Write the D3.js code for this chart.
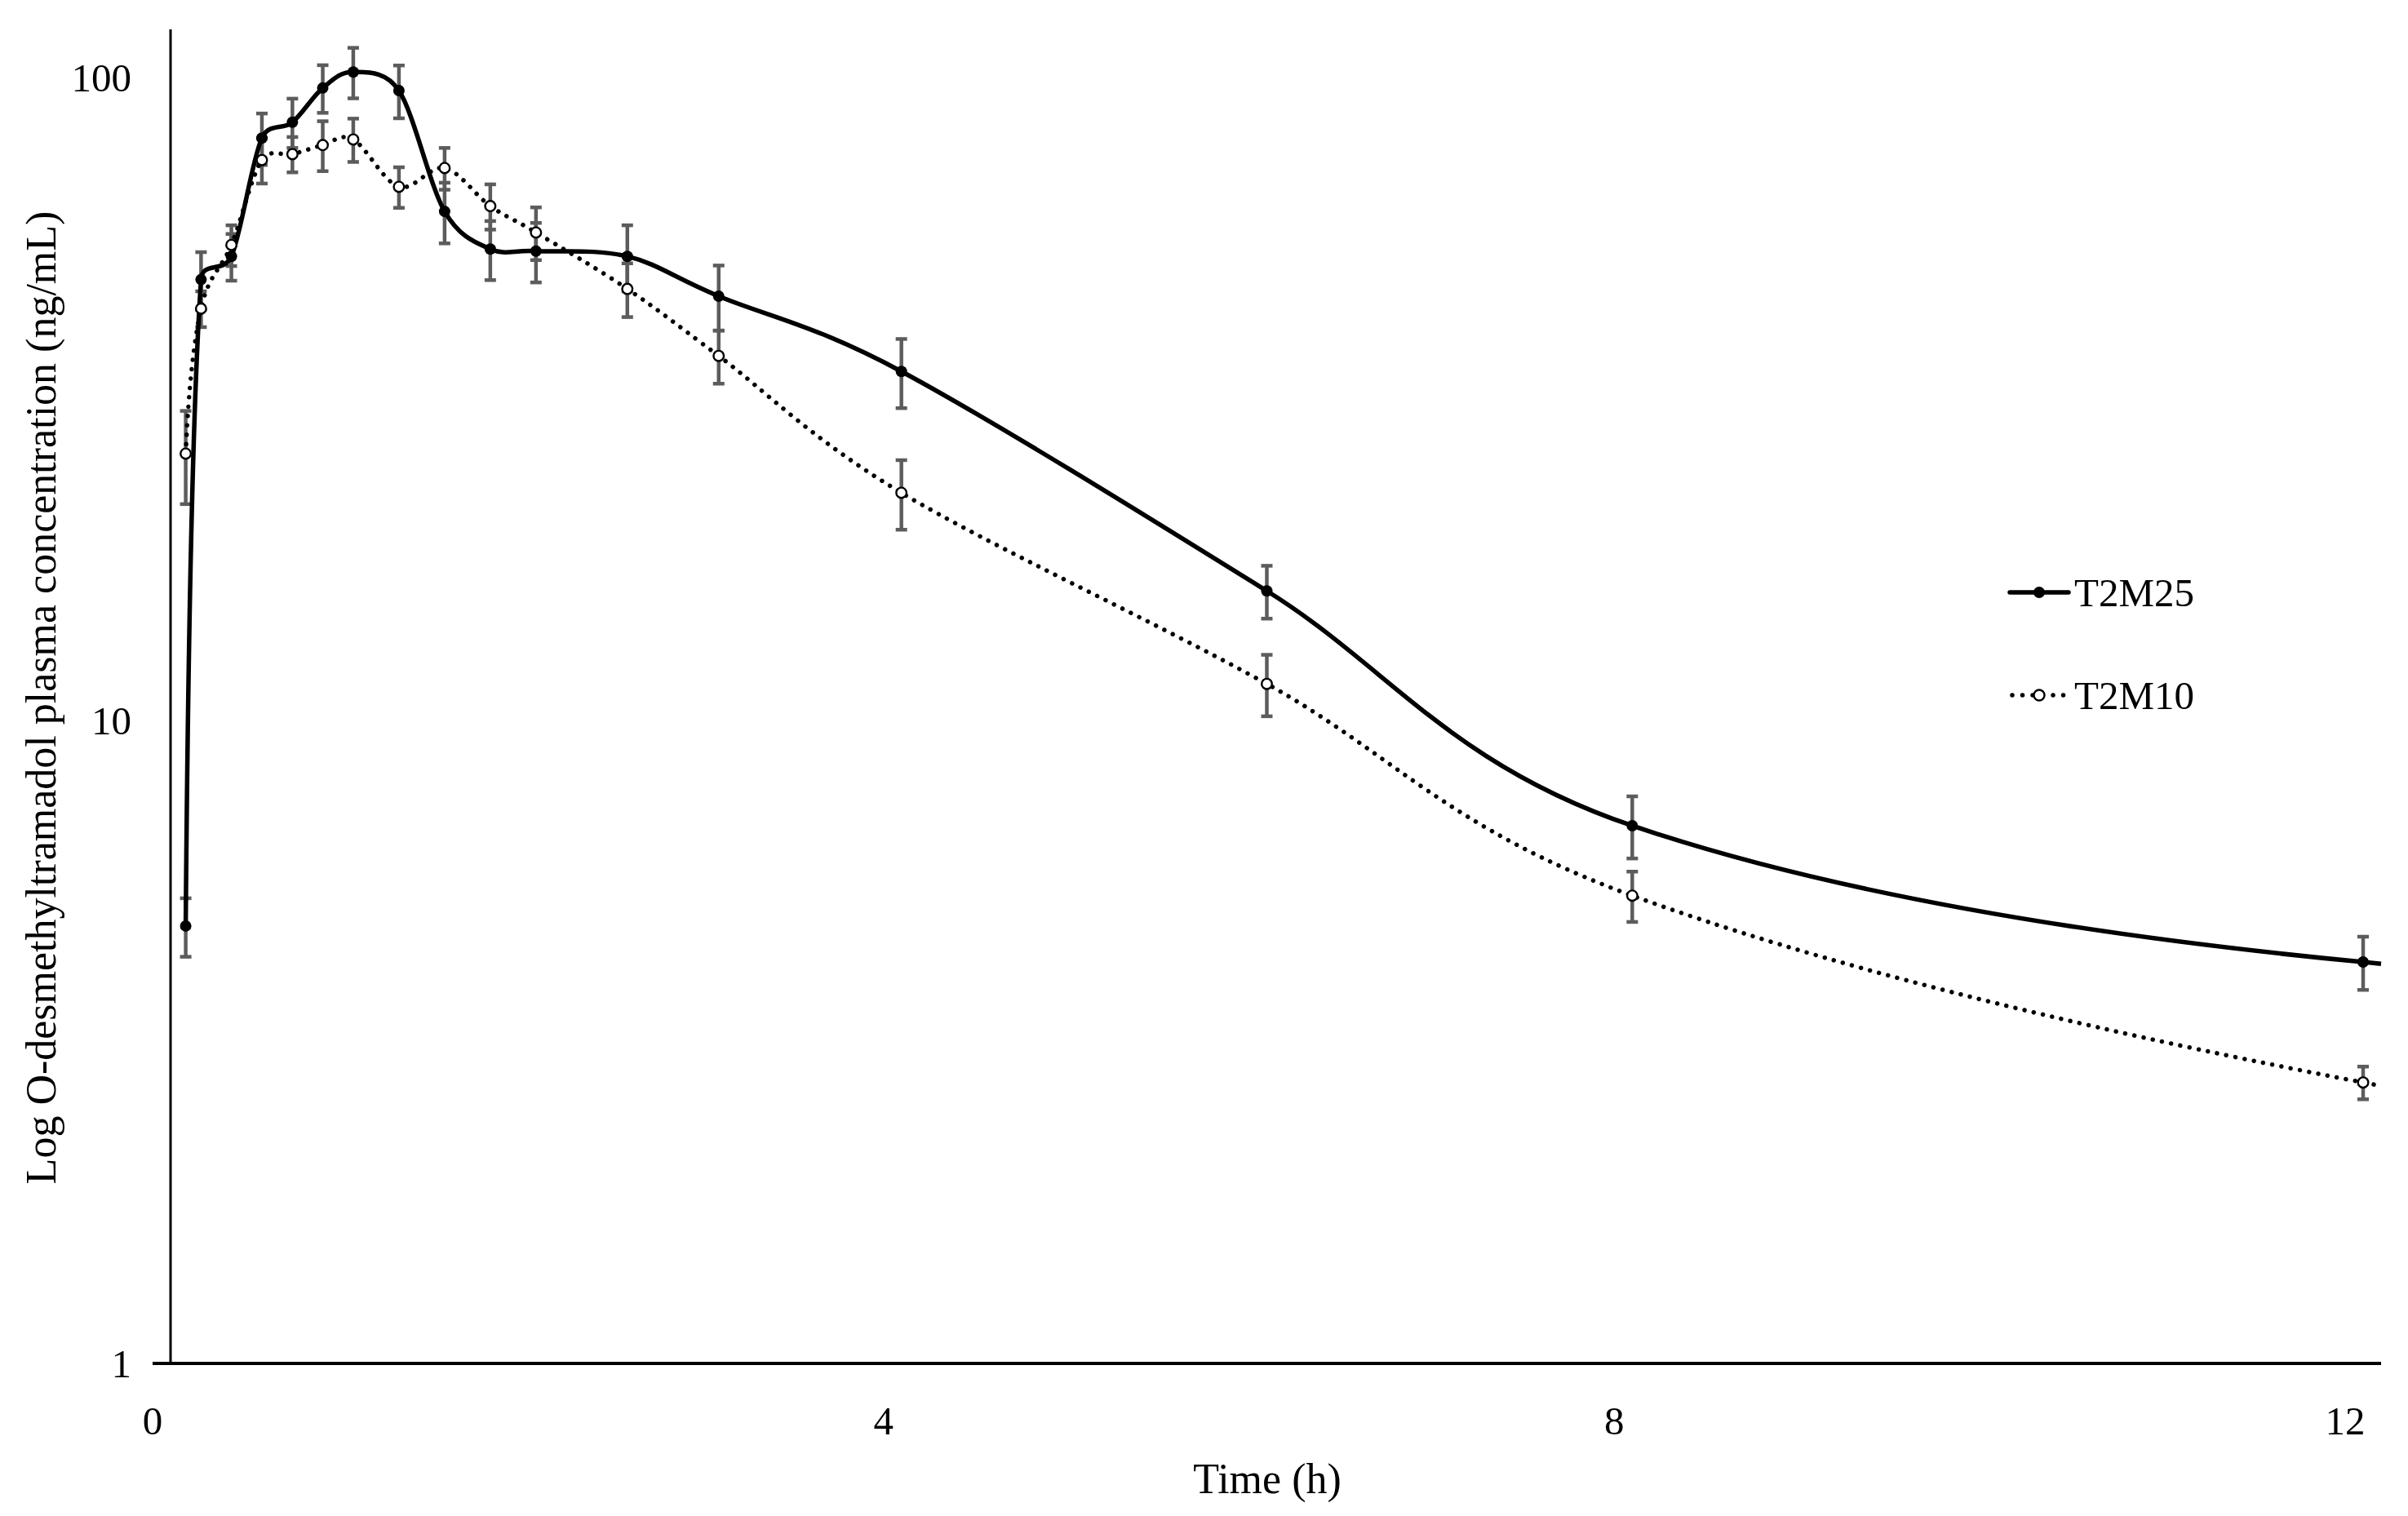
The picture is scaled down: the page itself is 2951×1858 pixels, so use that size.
<!DOCTYPE html>
<html>
<head>
<meta charset="utf-8">
<script src="https://cdn.jsdelivr.net/npm/d3@7"></script>
<style>
  html, body { margin: 0; padding: 0; background: #fff; }
  svg { display: block; }
  text { font-family: "Liberation Serif", "Times New Roman", serif; fill: #000; }
</style>
</head>
<body>
<svg id="chart" width="2951" height="1858"></svg>
<script>
// ---- data ----
const timesH = [0.083, 0.167, 0.333, 0.5, 0.667, 0.833, 1, 1.25, 1.5, 1.75, 2, 2.5, 3, 4, 6, 8, 12];
const t2m25Mean = [4.79, 48.5, 52.7, 80.5, 85.2, 96.3, 102, 95.4, 61.9, 54.1, 53.7, 52.7, 45.7, 34.9, 15.9, 6.86, 4.21];
const t2m25SD   = [0.5, 5.0, 4.4, 7.4, 7.5, 8.2, 9.2, 9.0, 6.7, 5.7, 5.7, 6.2, 5.3, 4.3, 1.5, 0.76, 0.4];
const t2m10Mean = [26.0, 43.7, 54.9, 74.4, 76.0, 78.5, 80.1, 67.6, 72.3, 63.1, 57.4, 46.9, 36.9, 22.6, 11.4, 5.34, 2.735];
const t2m10SD   = [4.3, 2.8, 4.0, 6.0, 4.8, 7.0, 6.2, 4.9, 5.4, 5.1, 5.4, 4.5, 3.5, 2.8, 1.25, 0.48, 0.16];
const xTicks = [0, 4, 8, 12];
const yTicks = [1, 10, 100];
const seriesNames = ["T2M25", "T2M10"];
const xTitle = "Time (h)";
const yTitle = "Log O-desmethyltramadol plasma concentration (ng/mL)";

// ---- smoothed curve (Catmull-Rom style, control arms clamped to avoid overshoot) ----
const lineOverhang = 22; // the reference's smoothed lines run a little past the last marker
function ClampedCR(context) { this._context = context; }
ClampedCR.prototype = {
  areaStart() {}, areaEnd() {},
  lineStart() { this._pts = []; },
  point(px, py) { this._pts.push([+px, +py]); },
  lineEnd() {
    const p = this._pts, n = p.length, c = this._context, k = 0.5;
    if (!n) return;
    c.moveTo(p[0][0], p[0][1]);
    if (n === 1) return;
    const T = p.map((q, i) => {
      const a = p[Math.max(i - 1, 0)], b = p[Math.min(i + 1, n - 1)];
      return [(b[0] - a[0]) / 2, (b[1] - a[1]) / 2];
    });
    if (n > 2) {
      T[0] = [2 * (p[1][0] - p[0][0]) - T[1][0], 2 * (p[1][1] - p[0][1]) - T[1][1]];
      T[n - 1] = [2 * (p[n - 1][0] - p[n - 2][0]) - T[n - 2][0], 2 * (p[n - 1][1] - p[n - 2][1]) - T[n - 2][1]];
    } else {
      T[0] = T[1] = [p[1][0] - p[0][0], p[1][1] - p[0][1]];
    }
    for (let i = 0; i < n - 1; i++) {
      const a = p[i], b = p[i + 1];
      const lim = k * Math.hypot(b[0] - a[0], b[1] - a[1]);
      const arm = t => {
        const m = Math.hypot(t[0], t[1]) / 3;
        const s = m > lim ? lim / m : 1;
        return [t[0] / 3 * s, t[1] / 3 * s];
      };
      const d1 = arm(T[i]), d2 = arm(T[i + 1]);
      c.bezierCurveTo(a[0] + d1[0], a[1] + d1[1], b[0] - d2[0], b[1] - d2[1], b[0], b[1]);
    }
    const te = T[n - 1], last = p[n - 1];
    if (te[0] > 0) c.lineTo(last[0] + lineOverhang, last[1] + te[1] * lineOverhang / te[0]);
  }
};
const curveClamped = ctx => new ClampedCR(ctx);

// ---- layout ----
const svg = d3.select("#chart");
const x = d3.scaleLinear().domain([0, 12]).range([209, 2896]);
const y = d3.scaleLog().domain([1, 118.8]).range([1671, 36]);
const labelShift = -22;   // tick labels / axis line sit slightly left of data origin in the reference
const errColor = "#5c5c5c";

// axes lines
svg.append("line")
  .attr("x1", x(0) + labelShift).attr("x2", x(12) + 22)
  .attr("y1", y(1)).attr("y2", y(1))
  .attr("stroke", "#000").attr("stroke-width", 4);
svg.append("line")
  .attr("x1", x(0)).attr("x2", x(0))
  .attr("y1", y(1)).attr("y2", y.range()[1])
  .attr("stroke", "#000").attr("stroke-width", 3);

// tick labels
svg.append("g").selectAll("text").data(xTicks).join("text")
  .attr("x", d => x(d) + labelShift)
  .attr("y", 1758)
  .attr("text-anchor", "middle")
  .attr("font-size", 49)
  .text(d => d);
svg.append("g").selectAll("text").data(yTicks).join("text")
  .attr("x", 161)
  .attr("y", d => y(d))
  .attr("dy", "0.34em")
  .attr("text-anchor", "end")
  .attr("font-size", 49)
  .text(d => d);

// axis titles
svg.append("text")
  .attr("x", 1553).attr("y", 1830)
  .attr("text-anchor", "middle")
  .attr("font-size", 52)
  .text(xTitle);
svg.append("text")
  .attr("transform", "translate(68,855) rotate(-90)")
  .attr("text-anchor", "middle")
  .attr("font-size", 52)
  .text(yTitle);

// build series
const series = [
  { name: seriesNames[0], mean: t2m25Mean, sd: t2m25SD, filled: true },
  { name: seriesNames[1], mean: t2m10Mean, sd: t2m10SD, filled: false }
].map(s => ({ ...s, pts: timesH.map((t, i) => ({ t, v: s.mean[i], sd: s.sd[i] })) }));

const line = d3.line()
  .x(d => x(d.t)).y(d => y(d.v))
  .curve(curveClamped);

// error bars
const capW = 7;
series.forEach(s => {
  const g = svg.append("g").attr("stroke", errColor).attr("stroke-width", 4.5);
  s.pts.forEach(p => {
    const top = y(p.v + p.sd), bot = y(Math.max(p.v - p.sd, 1.0001));
    const cx = x(p.t);
    g.append("line").attr("x1", cx).attr("x2", cx).attr("y1", top).attr("y2", bot);
    g.append("line").attr("x1", cx - capW).attr("x2", cx + capW).attr("y1", top).attr("y2", top);
    g.append("line").attr("x1", cx - capW).attr("x2", cx + capW).attr("y1", bot).attr("y2", bot);
  });
});

// lines
series.forEach(s => {
  const path = svg.append("path").datum(s.pts)
    .attr("d", line)
    .attr("fill", "none")
    .attr("stroke", "#000");
  if (s.filled) {
    path.attr("stroke-width", 5.5);
  } else {
    path.attr("stroke-width", 5.5).attr("stroke-linecap", "round").attr("stroke-dasharray", "0.01 11.5");
  }
});

// markers
series.forEach(s => {
  svg.append("g").selectAll("circle").data(s.pts).join("circle")
    .attr("cx", d => x(d.t)).attr("cy", d => y(d.v))
    .attr("r", s.filled ? 7 : 6.3)
    .attr("fill", s.filled ? "#000" : "#fff")
    .attr("stroke", "#000")
    .attr("stroke-width", s.filled ? 0 : 2.4);
});

// legend
const legY = [726, 852];
series.forEach((s, i) => {
  const g = svg.append("g");
  const ln = g.append("line")
    .attr("x1", 2463).attr("x2", 2535).attr("y1", legY[i]).attr("y2", legY[i])
    .attr("stroke", "#000").attr("stroke-linecap", "round");
  if (s.filled) ln.attr("stroke-width", 5.5);
  else ln.attr("stroke-width", 5.5).attr("stroke-dasharray", "0.01 12.5").attr("x1", 2466);
  g.append("circle").attr("cx", 2499).attr("cy", legY[i])
    .attr("r", s.filled ? 7 : 6.5)
    .attr("fill", s.filled ? "#000" : "#fff")
    .attr("stroke", "#000").attr("stroke-width", s.filled ? 0 : 2.4);
  g.append("text").attr("x", 2542).attr("y", legY[i]).attr("dy", "0.35em")
    .attr("font-size", 49).text(s.name);
});
</script>
</body>
</html>
